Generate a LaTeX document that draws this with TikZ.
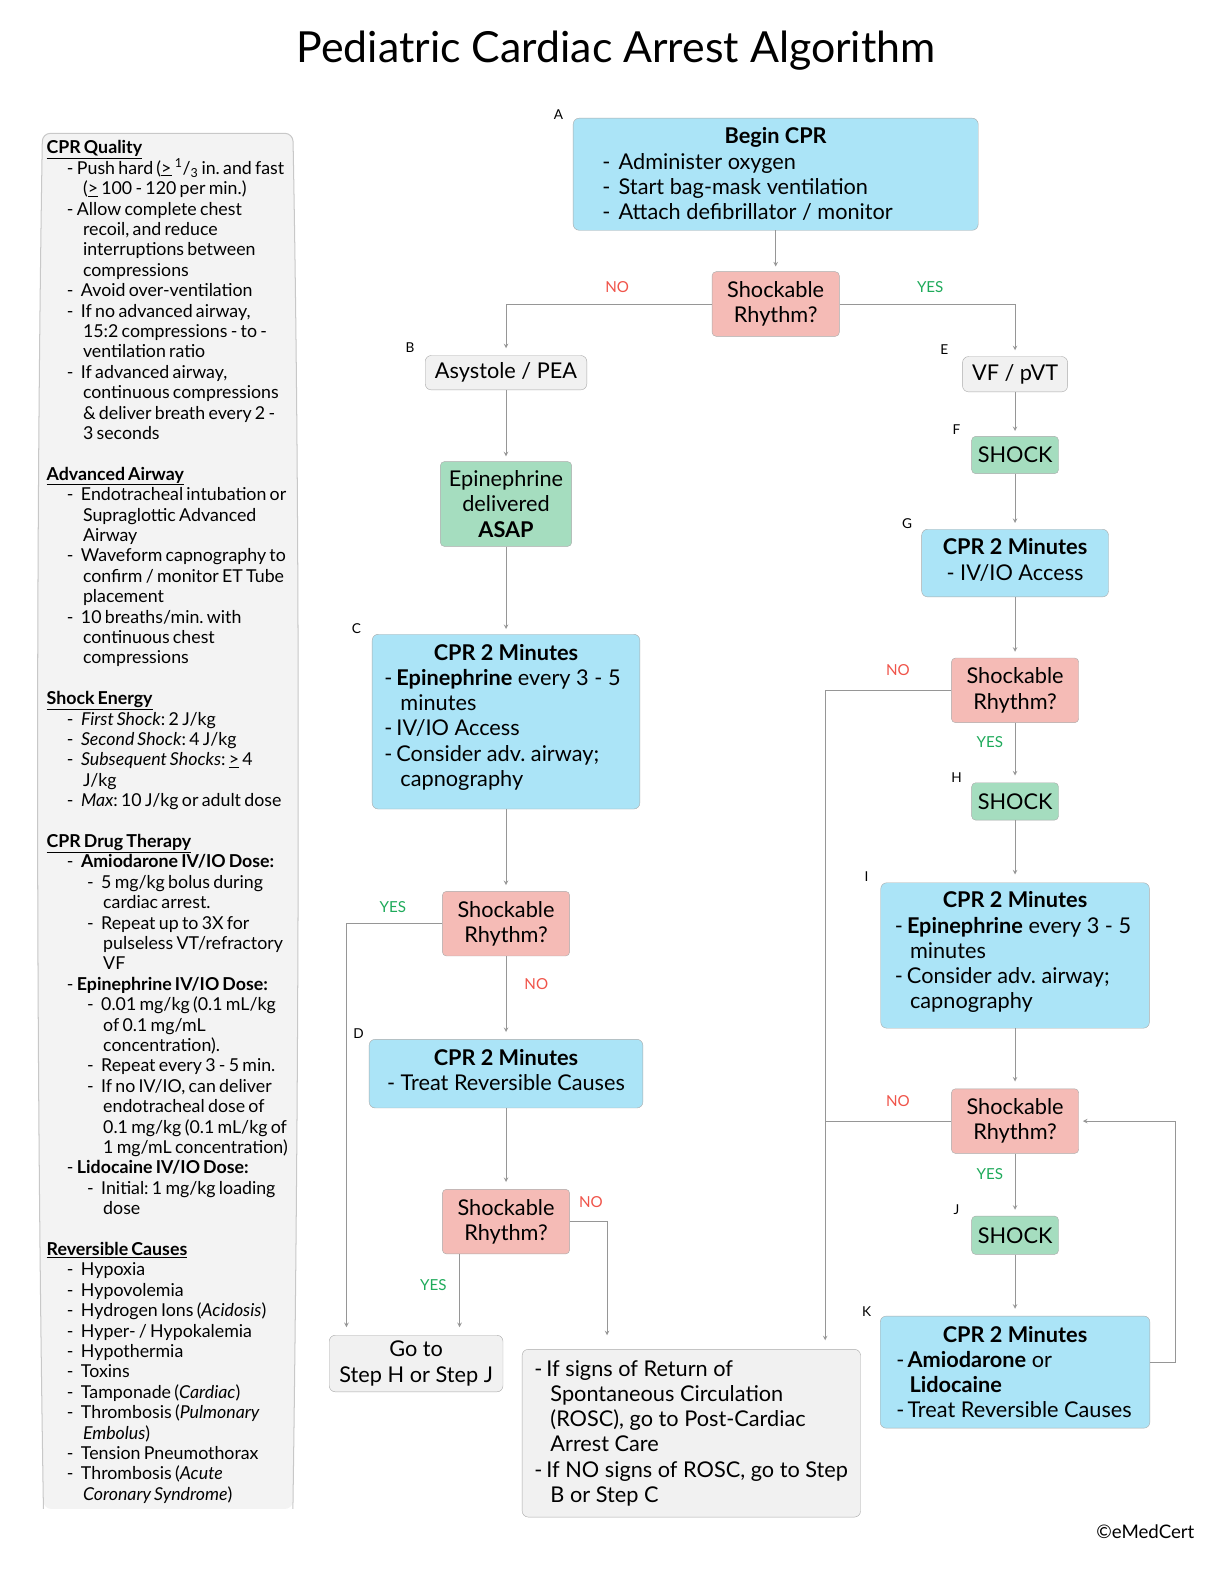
\documentclass[tikz,border=0pt]{standalone}
\usepackage{fontspec}
\setmainfont{Lato}
\newfontfamily\sidefont{Lato}[WordSpace=0.72]
\usetikzlibrary{arrows, calc, positioning}
\definecolor{cprblue}{RGB}{171,228,247}
\definecolor{rhythmpink}{RGB}{245,187,182}
\definecolor{shockgreen}{RGB}{165,221,191}
\definecolor{boxgrey}{RGB}{241,241,241}
\definecolor{panelgrey}{RGB}{243,243,243}
\definecolor{panelline}{RGB}{200,200,200}
\definecolor{edgegrey}{RGB}{170,170,170}
\definecolor{linegrey}{RGB}{150,150,150}
\definecolor{nored}{RGB}{240,84,74}
\definecolor{yesgreen}{RGB}{30,170,90}
\newcommand{\boxfont}{\fontsize{21.5}{25}\selectfont}
\newcommand{\bxsp}{\spaceskip=0pt\xspaceskip=0pt\relax}
\newcommand{\bxdash}[2][12pt]{\hspace*{#2}\makebox[#1][l]{-}}
\newcommand{\bxtitle}[1]{\hspace*{\fill}\textbf{#1}\hspace*{\fill}\null}
\newcommand{\bxpad}[1]{\rule[-#1]{0pt}{#1}}
\newcommand{\pdash}{\hspace*{20pt}\makebox[14pt][l]{-}}
\newcommand{\pdashw}{\hspace*{20pt}\makebox[10pt][l]{-}}
\newcommand{\pcont}{\hspace*{36pt}}
\newcommand{\psub}{\hspace*{40pt}\makebox[14pt][l]{-}}
\newcommand{\psubcont}{\hspace*{56pt}}
\tikzstyle{bluebox} = [rectangle, rounded corners=6pt, draw=edgegrey, fill=cprblue, inner ysep=2pt, font=\boxfont]
\tikzstyle{pinkbox} = [rectangle, rounded corners=4pt, draw=edgegrey, fill=rhythmpink, minimum width=126pt, minimum height=64pt, align=center, font=\boxfont]
\tikzstyle{greenbox} = [rectangle, rounded corners=4pt, draw=edgegrey, fill=shockgreen, align=center, font=\boxfont]
\tikzstyle{greybox} = [rectangle, rounded corners=6pt, draw=edgegrey, fill=boxgrey, align=center, font=\boxfont]
\tikzstyle{arrow} = [draw=linegrey, line width=1pt, ->, >=stealth, shorten >=5pt]
\tikzstyle{link} = [draw=linegrey, line width=1pt]
\tikzstyle{nolabel} = [text=nored, font=\fontsize{15}{17}\selectfont]
\tikzstyle{yeslabel} = [text=yesgreen, font=\fontsize{15}{17}\selectfont]
\tikzstyle{steplabel} = [font=\fontsize{13.5}{15}\selectfont]
\tikzstyle{sidetext} = [align=left, inner sep=0pt, font=\sidefont\fontsize{17.6}{20.2}\selectfont]

\begin{document}
\frenchspacing
\begin{tikzpicture}[x=1pt, y=1pt]

\useasboundingbox (0,0) rectangle (1211.9,-1568.3);
\fill[white] (0,0) rectangle (1211.9,-1568.3);

\node (title) at (610,-50) {\fontsize{42.4}{48}\selectfont Pediatric Cardiac Arrest Algorithm};

% side panel
\path[fill=panelgrey, rounded corners=8pt] (43,-1494) .. controls (35,-1000) and (36,-500) .. (42,-132) -- (290,-132) .. controls (297,-500) and (297,-1000) .. (290,-1494) -- cycle;
\draw[panelline, line width=1pt, rounded corners=8pt] (43,-1494) .. controls (35,-1000) and (36,-500) .. (42,-132) -- (290,-132) .. controls (297,-500) and (297,-1000) .. (290,-1494);

\node (sidenotes) [sidetext, anchor=north west] at (46,-139) {%
\underline{\textbf{CPR Quality}}\\
\pdashw Push hard (\underline{>} \textsuperscript{1}/\textsubscript{3} in. and fast\\
\pcont(\underline{>} 100 - 120 per min.)\\
\pdashw Allow complete chest\\
\pcont recoil, and reduce\\
\pcont interruptions between\\
\pcont compressions\\
\pdash Avoid over-ventilation\\
\pdash If no advanced airway,\\
\pcont 15:2 compressions - to -\\
\pcont ventilation ratio\\
\pdash If advanced airway,\\
\pcont continuous compressions\\
\pcont \& deliver breath every 2 -\\
\pcont 3 seconds\\
\mbox{}\\
\underline{\textbf{Advanced Airway}}\\
\pdash Endotracheal intubation or\\
\pcont Supraglottic Advanced\\
\pcont Airway\\
\pdash Waveform capnography to\\
\pcont confirm / monitor ET Tube\\
\pcont placement\\
\pdash 10 breaths/min. with\\
\pcont continuous chest\\
\pcont compressions\\
\mbox{}\\
\underline{\textbf{Shock Energy}}\\
\pdash \textit{First Shock}: 2 J/kg\\
\pdash \textit{Second Shock}: 4 J/kg\\
\pdash \textit{Subsequent Shocks}: \underline{>} 4\\
\pcont J/kg\\
\pdash \textit{Max}: 10 J/kg or adult dose\\
\mbox{}\\
\underline{\textbf{CPR Drug Therapy}}\\
\pdash \textbf{Amiodarone IV/IO Dose:}\\
\psub 5 mg/kg bolus during\\
\psubcont cardiac arrest.\\
\psub Repeat up to 3X for\\
\psubcont pulseless VT/refractory\\
\psubcont VF\\
\pdashw \textbf{Epinephrine IV/IO Dose:}\\
\psub 0.01 mg/kg (0.1 mL/kg\\
\psubcont of 0.1 mg/mL\\
\psubcont concentration).\\
\psub Repeat every 3 - 5 min.\\
\psub If no IV/IO, can deliver\\
\psubcont endotracheal dose of\\
\psubcont 0.1 mg/kg (0.1 mL/kg of\\
\psubcont 1 mg/mL concentration)\\
\pdashw \textbf{Lidocaine IV/IO Dose:}\\
\psub Initial: 1 mg/kg loading\\
\psubcont dose\\
\mbox{}\\
\underline{\textbf{Reversible Causes}}\\
\pdash Hypoxia\\
\pdash Hypovolemia\\
\pdash Hydrogen Ions (\textit{Acidosis})\\
\pdash Hyper- / Hypokalemia\\
\pdash Hypothermia\\
\pdash Toxins\\
\pdash Tamponade (\textit{Cardiac})\\
\pdash Thrombosis (\textit{Pulmonary}\\
\pcont\textit{Embolus})\\
\pdash Tension Pneumothorax\\
\pdash Thrombosis (\textit{Acute}\\
\pcont\textit{Coronary Syndrome})};

% main flow
\node (begincpr) [bluebox, text width=401pt, inner xsep=0pt, minimum height=111pt, align=left] at (768,-172.5) {\bxsp
\bxtitle{Begin CPR}\\
\mbox{\bxdash[16pt]{29pt}Administer oxygen}\\
\mbox{\bxdash[16pt]{29pt}Start bag-mask ventilation}\\
\mbox{\bxdash[16pt]{29pt}Attach defibrillator / monitor}};
\node (rhythm1) [pinkbox] at (768,-301) {Shockable\\Rhythm?};

\node (asystole) [greybox, minimum width=160pt, minimum height=34pt] at (501,-369) {Asystole / PEA};
\node (epiasap) [greenbox, minimum width=130pt, minimum height=84pt] at (501,-499) {Epinephrine\\delivered\\\textbf{ASAP}};
\node (cprC) [bluebox, text width=265pt, inner xsep=0pt, minimum height=173pt, align=left] at (501,-714.5) {\bxsp
\bxtitle{CPR 2 Minutes}\\
\mbox{\bxdash{12pt}\textbf{Epinephrine} every 3 - 5}\\
\hspace*{28pt}minutes\\
\mbox{\bxdash{12pt}IV/IO Access}\\
\mbox{\bxdash{12pt}Consider adv. airway;}\\
\hspace*{28pt}capnography\bxpad{13pt}};
\node (rhythm2) [pinkbox] at (501,-914.5) {Shockable\\Rhythm?};
\node (cprD) [bluebox, minimum width=271pt, minimum height=68pt, align=center] at (501,-1063) {\textbf{CPR 2 Minutes}\\- Treat Reversible Causes\bxpad{8pt}};
\node (rhythm3) [pinkbox] at (501,-1209.5) {Shockable\\Rhythm?};
\node (gotostep) [greybox, minimum width=172pt, minimum height=56pt] at (412,-1350) {Go to\\Step H or Step J};
\node (rosc) [greybox, text width=335pt, inner xsep=0pt, minimum height=166pt, align=left] at (684.5,-1419) {\bxsp
\mbox{\bxdash{12pt}If signs of Return of}\\
\mbox{\hspace*{28pt}Spontaneous Circulation}\\
\mbox{\hspace*{28pt}(ROSC), go to Post-Cardiac}\\
\mbox{\hspace*{28pt}Arrest Care}\\
\mbox{\bxdash{12pt}If NO signs of ROSC, go to Step}\\
\mbox{\hspace*{28pt}B or Step C}};

\node (vfpvt) [greybox, minimum width=104pt, minimum height=35pt] at (1005,-370.5) {VF / pVT};
\node (shockF) [greenbox, minimum width=86pt, minimum height=37pt] at (1005,-450.5) {SHOCK};
\node (cprG) [bluebox, minimum width=185pt, minimum height=67pt, align=center] at (1005,-557.5) {\textbf{CPR 2 Minutes}\\- IV/IO Access\bxpad{7pt}};
\node (rhythm4) [pinkbox] at (1005,-683.5) {Shockable\\Rhythm?};
\node (shockH) [greenbox, minimum width=86pt, minimum height=37pt] at (1005,-793.5) {SHOCK};
\node (cprI) [bluebox, text width=266pt, inner xsep=0pt, minimum height=144pt, align=left] at (1005,-946) {\bxsp
\bxtitle{CPR 2 Minutes}\\
\mbox{\bxdash{14pt}\textbf{Epinephrine} every 3 - 5}\\
\hspace*{29pt}minutes\\
\mbox{\bxdash{14pt}Consider adv. airway;}\\
\hspace*{29pt}capnography\bxpad{10pt}};
\node (rhythm5) [pinkbox] at (1005,-1110) {Shockable\\Rhythm?};
\node (shockJ) [greenbox, minimum width=86pt, minimum height=38pt] at (1005,-1223) {SHOCK};
\node (cprK) [bluebox, text width=267pt, inner xsep=0pt, minimum height=111pt, align=left] at (1005,-1358.5) {\bxsp
\bxtitle{CPR 2 Minutes}\\
\mbox{\bxdash[11pt]{16pt}\textbf{Amiodarone} or}\\
\hspace*{29pt}\textbf{Lidocaine}\\
\mbox{\bxdash[11pt]{16pt}Treat Reversible Causes}};

% step letters
\node (labA) [steplabel] at (553,-113) {A};
\node (labB) [steplabel] at (406,-344) {B};
\node (labC) [steplabel] at (353,-622) {C};
\node (labD) [steplabel] at (355,-1023) {D};
\node (labE) [steplabel] at (935,-346) {E};
\node (labF) [steplabel] at (947,-425) {F};
\node (labG) [steplabel] at (898,-518) {G};
\node (labH) [steplabel] at (947,-770) {H};
\node (labI) [steplabel] at (858,-868) {I};
\node (labJ) [steplabel] at (947,-1198) {J};
\node (labK) [steplabel] at (858,-1299) {K};

% answers
\node (no1) [nolabel] at (611,-284) {NO};
\node (yes1) [yeslabel] at (921,-284) {YES};
\node (yes2) [yeslabel] at (389,-898) {YES};
\node (no2) [nolabel] at (531,-974) {NO};
\node (no3) [nolabel] at (585,-1190) {NO};
\node (yes3) [yeslabel] at (429,-1272) {YES};
\node (no4) [nolabel] at (889,-663) {NO};
\node (yes4) [yeslabel] at (980,-735) {YES};
\node (no5) [nolabel] at (889,-1090) {NO};
\node (yes5) [yeslabel] at (980,-1162) {YES};

\coordinate (yes2end) at (343,-1322);
\coordinate (yes3end) at (455,-1322);
\coordinate (no3end) at (601,-1336);
\coordinate (no4end) at (817,-1336);

\draw [arrow] (begincpr) -- (rhythm1);
\draw [arrow, shorten >=7pt] (rhythm1.west) -| (asystole.north);
\draw [arrow, shorten >=6pt] (rhythm1.east) -| (vfpvt.north);
\draw [arrow] (asystole) -- (epiasap);
\draw [arrow] (epiasap) -- (cprC);
\draw [arrow, shorten >=6pt] (cprC) -- (rhythm2);
\draw [arrow, shorten >=8pt] (rhythm2.west) -| (yes2end);
\draw [arrow, shorten >=7pt] (rhythm2) -- (cprD);
\draw [arrow, shorten >=7pt] (cprD) -- (rhythm3);
\draw [arrow, shorten >=8pt] (yes3end |- rhythm3.south) -- (yes3end);
\draw [arrow, shorten >=14pt] (rhythm3.east) -| (no3end);

\draw [arrow] (vfpvt) -- (shockF);
\draw [arrow, shorten >=6pt] (shockF) -- (cprG);
\draw [arrow, shorten >=6pt] (cprG) -- (rhythm4);
\draw [arrow, shorten >=9pt] (rhythm4.west) -| (no4end);
\draw [arrow, shorten >=7pt] (rhythm4) -- (shockH);
\draw [arrow, shorten >=8pt] (shockH) -- (cprI);
\draw [arrow, shorten >=7pt] (cprI) -- (rhythm5);
\draw [link] (rhythm5.west) -- (rhythm5.west -| no4end);
\draw [arrow, shorten >=6pt] (rhythm5) -- (shockJ);
\draw [arrow, shorten >=7pt] (shockJ) -- (cprK);
\draw [arrow, shorten >=4pt] ([yshift=10pt]cprK.east) -- ++(25,0) |- (rhythm5.east);

\node (credit) at (1134,-1516) {\fontsize{18.5}{21}\selectfont ©eMedCert};

\end{tikzpicture}
\end{document}
